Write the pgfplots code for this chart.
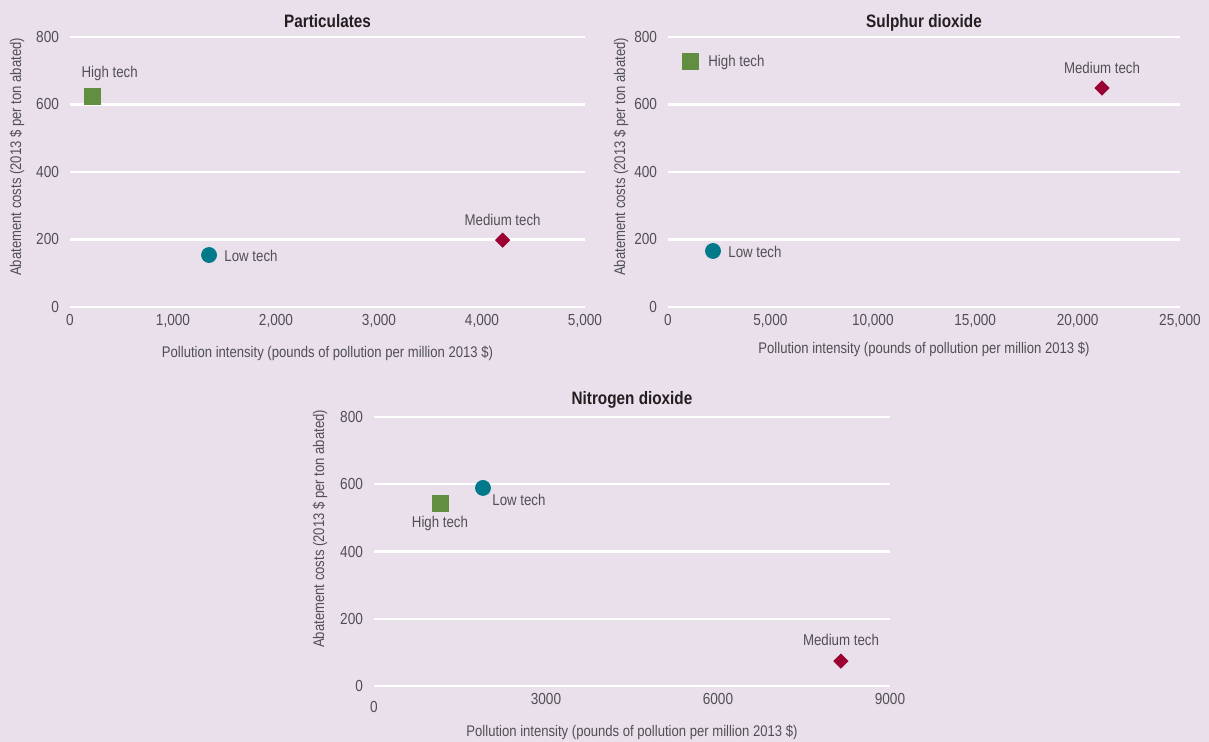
\documentclass[border=0pt]{standalone}
\usepackage{pgfplots}
\pgfplotsset{compat=1.18}
\usepackage{fontspec}
\setmainfont{Liberation Sans}[FakeStretch=0.85]
\definecolor{bg}{RGB}{233,224,235}
\definecolor{tickc}{RGB}{80,80,82}
\definecolor{titc}{RGB}{35,31,32}
\definecolor{hgreen}{RGB}{98,142,66}
\definecolor{lteal}{RGB}{0,122,138}
\definecolor{mred}{RGB}{155,0,51}
\pgfplotsset{
  panel/.style={
    scale only axis,
    axis lines=left,
    axis line style={draw=none},
    major tick length=0pt,
    ymin=0, ymax=800, ytick={0,200,...,800},
    ymajorgrids,
    grid style={white, line width=1.1pt},
    tick label style={font=\fontsize{8}{9}\selectfont, text=tickc},
    yticklabel style={xshift=-2pt},
    /pgf/number format/assume math mode=true,
    /pgf/number format/1000 sep={,},
    scaled x ticks=false, scaled y ticks=false,
    label style={font=\fontsize{7.7}{9}\selectfont, text=tickc},
    title style={font=\fontsize{9}{10}\selectfont\bfseries, text=titc},
    xlabel={Pollution intensity (pounds of pollution per million 2013 \$)},
    ylabel={Abatement costs (2013 \$ per ton abated)},
    clip=false,
  },
}
\tikzset{lab/.style={font=\fontsize{7.8}{9}\selectfont, text=tickc, inner sep=0pt}}
\begin{document}
\begin{tikzpicture}[x=1pt,y=1pt]
\fill[bg] (0,0) rectangle (604.5,371);
\path[use as bounding box] (0,0) rectangle (604.5,371);

% Particulates
\begin{axis}[panel, at={(35pt,217.5pt)}, anchor=south west,
  width=257.5pt, height=135pt,
  xmin=0, xmax=5000, xtick={0,1000,...,5000},
  title={Particulates},
  title style={at={(axis description cs:0.5,1)}, anchor=base, yshift=-1.25pt},
  xlabel style={at={(axis description cs:0.5,0)}, anchor=center, yshift=-23pt},
  ylabel style={at={(axis description cs:0,0.556)}, anchor=center, yshift=26.5pt},
]
\addplot[only marks, mark=square*, mark size=4pt, color=hgreen] coordinates {(220,625)};
\addplot[only marks, mark=*, mark size=3.75pt, color=lteal] coordinates {(1350,154)};
\addplot[only marks, mark=square*, mark size=2.5pt, mark options={rotate=45}, color=mred] coordinates {(4200,198)};
\node[lab, anchor=center, xshift=8.5pt, yshift=11.5pt] at (axis cs:220,625) {High tech};
\node[lab, anchor=west, xshift=7.5pt, yshift=-0.5pt] at (axis cs:1350,154) {Low tech};
\node[lab, anchor=center, yshift=10pt] at (axis cs:4200,198) {Medium tech};
\end{axis}

% Sulphur dioxide
\begin{axis}[panel, at={(334pt,217.5pt)}, anchor=south west,
  width=256pt, height=135pt,
  xmin=0, xmax=25000, xtick={0,5000,...,25000},
  title={Sulphur dioxide},
  title style={at={(axis description cs:0.5,1)}, anchor=base, yshift=-1.25pt},
  xlabel style={at={(axis description cs:0.5,0)}, anchor=center, yshift=-21pt},
  ylabel style={at={(axis description cs:0,0.556)}, anchor=center, yshift=23.5pt},
]
\addplot[only marks, mark=square*, mark size=4pt, color=hgreen] coordinates {(1074,729)};
\addplot[only marks, mark=*, mark size=3.75pt, color=lteal] coordinates {(2197,166)};
\addplot[only marks, mark=square*, mark size=2.5pt, mark options={rotate=45}, color=mred] coordinates {(21190,649)};
\node[lab, anchor=west, xshift=9pt, yshift=-1pt] at (axis cs:1074,729) {High tech};
\node[lab, anchor=west, xshift=7.5pt, yshift=-0.5pt] at (axis cs:2197,166) {Low tech};
\node[lab, anchor=center, yshift=10pt] at (axis cs:21190,649) {Medium tech};
\end{axis}

% Nitrogen dioxide
\begin{axis}[panel, at={(187pt,28pt)}, anchor=south west,
  width=258pt, height=134.5pt,
  xmin=0, xmax=9000, xtick={0,3000,6000,9000},
  xticklabels={{\raisebox{-4pt}[\height][\depth]{0}},3000,6000,9000},
  title={Nitrogen dioxide},
  title style={at={(axis description cs:0.5,1)}, anchor=base, yshift=0.25pt},
  xlabel style={at={(axis description cs:0.5,0)}, anchor=center, yshift=-23pt},
  ylabel style={at={(axis description cs:0,0.584)}, anchor=center, yshift=27pt},
]
\addplot[only marks, mark=square*, mark size=4pt, color=hgreen] coordinates {(1151,544)};
\addplot[only marks, mark=*, mark size=3.75pt, color=lteal] coordinates {(1901,589)};
\addplot[only marks, mark=square*, mark size=2.5pt, mark options={rotate=45}, color=mred] coordinates {(8145,74)};
\node[lab, anchor=center, yshift=-10pt] at (axis cs:1151,544) {High tech};
\node[lab, anchor=west, xshift=4.5pt, yshift=-6pt] at (axis cs:1901,589) {Low tech};
\node[lab, anchor=center, yshift=10.5pt] at (axis cs:8145,74) {Medium tech};
\end{axis}
\end{tikzpicture}
\end{document}
